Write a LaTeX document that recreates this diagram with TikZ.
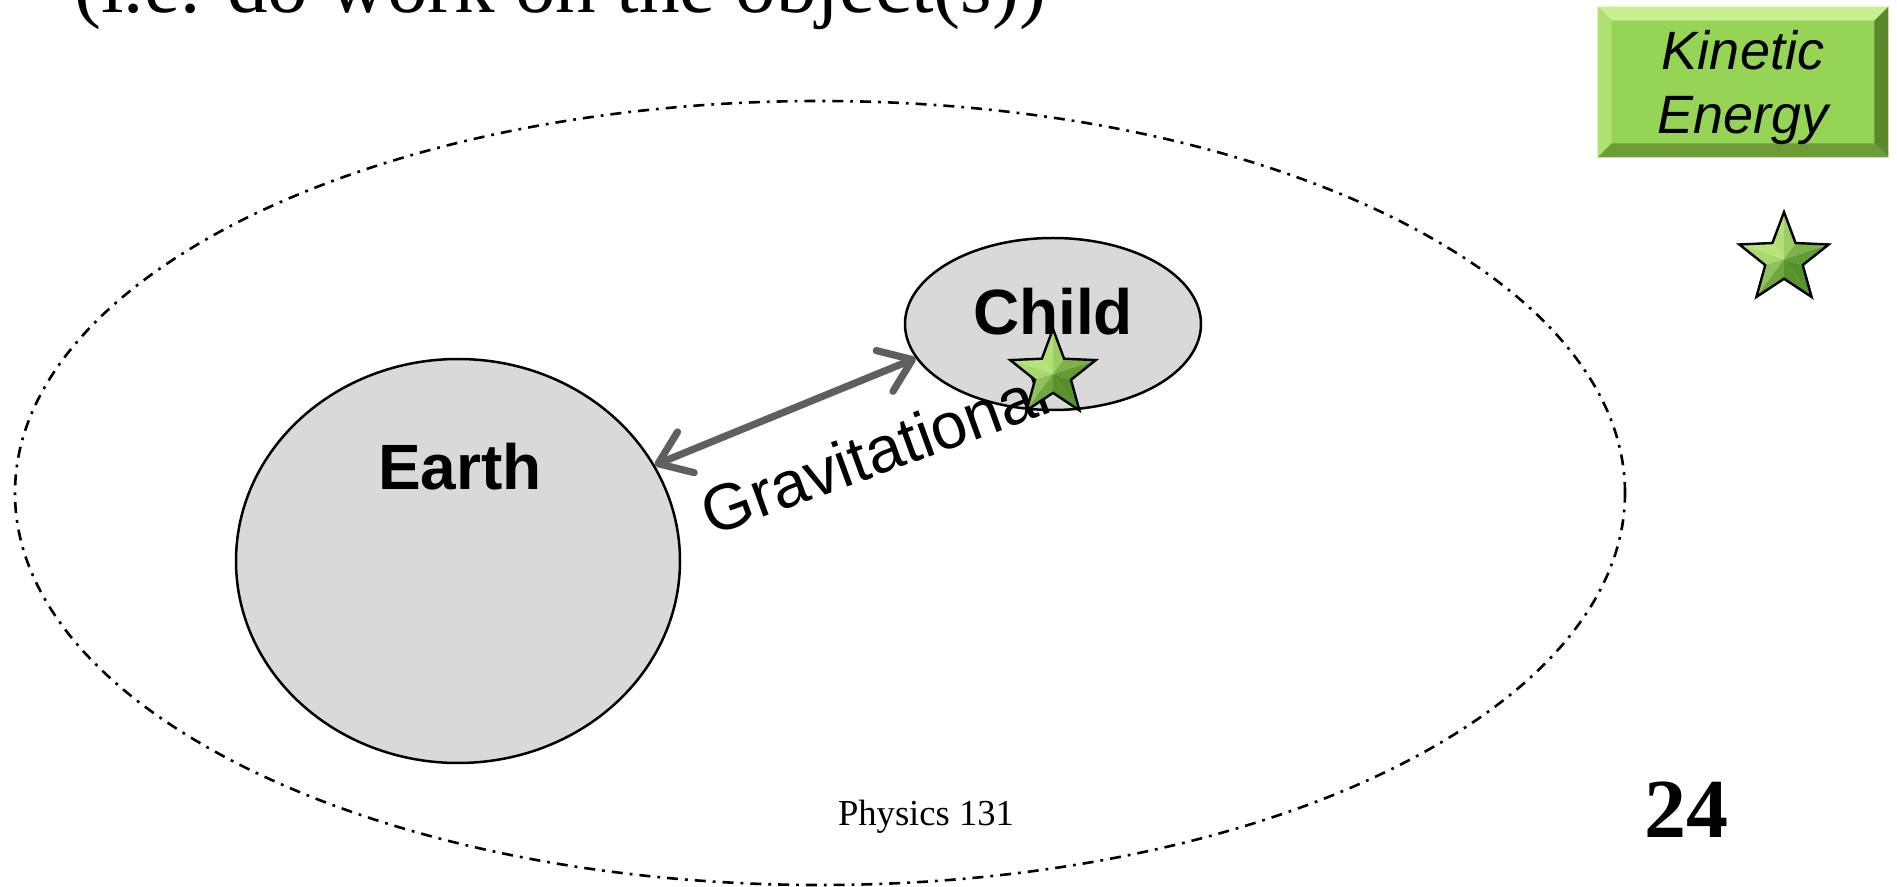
\documentclass[tikz,border=0pt]{standalone}
\usepackage{fontspec}
\setmainfont{Liberation Serif}
\newfontfamily\arialfont{Liberation Sans}
\usetikzlibrary{arrows.meta,shapes.geometric,calc}

\definecolor{shapegray}{HTML}{D9D9D9}
\definecolor{arrowgray}{HTML}{5F5F5F}
\definecolor{keface}{HTML}{95D455}
\definecolor{ketop}{HTML}{C8EF90}
\definecolor{keleft}{HTML}{AEE072}
\definecolor{keright}{HTML}{5C882D}
\definecolor{kebottom}{HTML}{6D9C37}
\definecolor{starlit}{HTML}{BDEA80}
\definecolor{starshade}{HTML}{4F8A24}

\tikzset{
  body/.style={ellipse, draw=black, line width=1.25pt, fill=shapegray, inner sep=0pt},
  system/.style={ellipse, draw=black, line width=1.3pt,
    dash pattern=on 5.5pt off 3.5pt on 1.4pt off 3.5pt, inner sep=0pt},
  bodylabel/.style={font=\arialfont\bfseries\fontsize{32}{38}\selectfont, inner sep=0pt},
  force/.style={draw=arrowgray, line width=3.6pt, line cap=round,
    >={Straight Barb[length=15pt,width=22pt,round]}, <->},
  forcelabel/.style={font=\arialfont\fontsize{32.5}{38}\selectfont, inner sep=0pt, rotate=20},
  kebox/.style={rectangle, fill=keface, minimum width=145pt, minimum height=75pt, inner sep=0pt},
  ketext/.style={font=\arialfont\itshape\fontsize{27}{32}\selectfont, align=center, inner sep=0pt},
  gstar/.pic={
    \foreach \k in {0,...,4}{
      \pgfmathsetmacro\outerang{90+72*\k}
      \foreach \s in {-1,1}{
        \pgfmathsetmacro\innerang{\outerang+36*\s}
        \pgfmathsetmacro\midang{\outerang+18*\s}
        \pgfmathtruncatemacro\shadepct{50+45*cos(\midang-135)}
        \fill[starlit!\shadepct!starshade] (0,0) -- (\outerang:#1) -- (\innerang:0.42*#1) -- cycle;
      }
    }
    \draw[black, line width=1.2pt, line join=miter]
      (90:#1) -- (126:0.42*#1) -- (162:#1) -- (198:0.42*#1) -- (234:#1) -- (270:0.42*#1)
      -- (306:#1) -- (342:0.42*#1) -- (18:#1) -- (54:0.42*#1) -- cycle;
  }
}

\begin{document}
\begin{tikzpicture}[x=0.5pt, y=-0.5pt]
\useasboundingbox (0,0) rectangle (1897,887);
\clip (0,0) rectangle (1897,887);

% heading line running off the top of the slide
\node[anchor=base west, inner sep=0pt, font=\fontsize{40.5}{48}\selectfont] (heading) at (74,13)
  {(i.e. do work on the object(s))};

% the system boundary
\node[system, minimum width=805pt, minimum height=392pt] (sys) at (820,493) {};

% the two bodies
\node[body, minimum width=222pt, minimum height=202pt] (earth) at (458,561) {};
\node[body, minimum width=148pt, minimum height=86pt] (child) at (1053,324) {};
\node[bodylabel, anchor=base] (earthlabel) at (460,490) {Earth};
\node[bodylabel, anchor=base] (childlabel) at (1053,335) {Child};

% gravitational interaction
\draw[force] (earth.26) -- (child.194);
\node[forcelabel] (gravlabel) at (875,452) {Gravitational};

% energy marker on the child
\pic (childstar) at (1053,374) {gstar=22.5pt};

% legend: kinetic energy
\node[kebox] (kinetic) at (1743,82) {};
\fill[ketop] (kinetic.north west) -- (kinetic.north east)
  -- ($(kinetic.north east)+(-7pt,-7pt)$) -- ($(kinetic.north west)+(7pt,-7pt)$) -- cycle;
\fill[keleft] (kinetic.north west) -- ($(kinetic.north west)+(7pt,-7pt)$)
  -- ($(kinetic.south west)+(7pt,7pt)$) -- (kinetic.south west) -- cycle;
\fill[keright] (kinetic.north east) -- (kinetic.south east)
  -- ($(kinetic.south east)+(-7pt,7pt)$) -- ($(kinetic.north east)+(-7pt,-7pt)$) -- cycle;
\fill[kebottom] (kinetic.south west) -- ($(kinetic.south west)+(7pt,7pt)$)
  -- ($(kinetic.south east)+(-7pt,7pt)$) -- (kinetic.south east) -- cycle;
\node[ketext, yshift=-3pt] (ketitle) at (kinetic.center) {Kinetic\\Energy};
\pic (legendstar) at (1784,259) {gstar=23.5pt};

% footer
\node[anchor=base, inner sep=0pt, font=\fontsize{18.3}{22}\selectfont] (course) at (926,825) {Physics 131};
\node[anchor=base, inner sep=0pt, font=\bfseries\fontsize{42}{50}\selectfont] (pagenum) at (1686,837) {24};
\end{tikzpicture}
\end{document}
